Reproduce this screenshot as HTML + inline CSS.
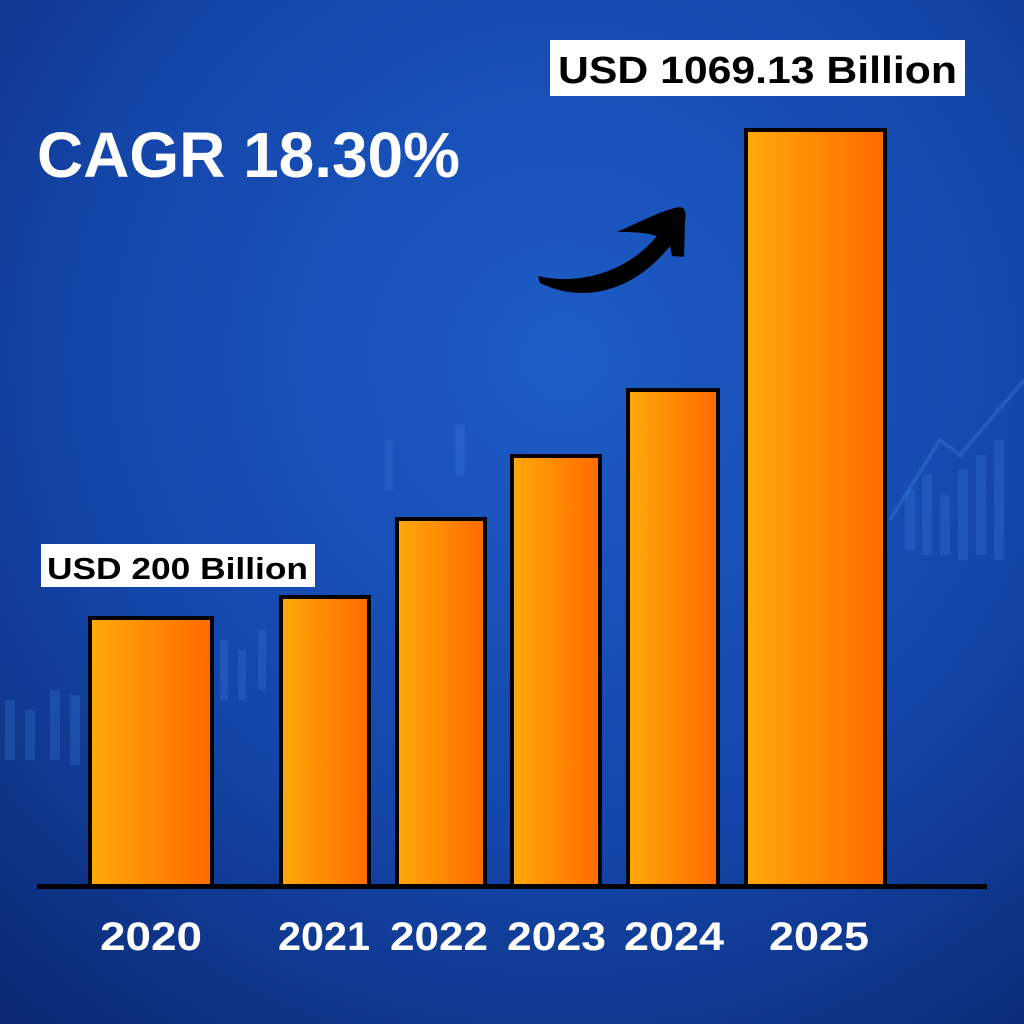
<!DOCTYPE html>
<html><head><meta charset="utf-8"><style>
html,body{margin:0;padding:0;width:1024px;height:1024px;overflow:hidden}
</style></head><body>
<svg width="1024" height="1024" viewBox="0 0 1024 1024" xmlns="http://www.w3.org/2000/svg">
<defs>
<radialGradient id="bg" cx="0.55" cy="0.35" r="0.85">
<stop offset="0" stop-color="#1d5cc6"/>
<stop offset="0.55" stop-color="#1446aa"/>
<stop offset="1" stop-color="#0a2870"/>
</radialGradient>
<linearGradient id="bar" x1="0" y1="0" x2="1" y2="0">
<stop offset="0" stop-color="#ffa90a"/>
<stop offset="1" stop-color="#ff6a00"/>
</linearGradient>
</defs>
<rect width="1024" height="1024" fill="url(#bg)"/>
<g fill="#3a7ad8" opacity="0.3">
<rect x="905" y="490" width="10" height="60"/><rect x="922" y="475" width="10" height="80"/><rect x="940" y="495" width="10" height="60"/><rect x="958" y="470" width="10" height="90"/><rect x="976" y="455" width="10" height="100"/><rect x="994" y="440" width="10" height="120"/>
<rect x="5" y="700" width="10" height="60"/><rect x="25" y="710" width="10" height="50"/><rect x="50" y="690" width="10" height="70"/><rect x="70" y="695" width="10" height="70"/>
<rect x="220" y="640" width="8" height="60"/><rect x="238" y="650" width="8" height="50"/><rect x="258" y="630" width="8" height="60"/>
<rect x="455" y="425" width="10" height="50"/><rect x="385" y="440" width="8" height="50"/>
</g>
<path d="M890 520 L940 440 L960 455 L1024 380" stroke="#3a7ad8" stroke-width="4" fill="none" opacity="0.4"/>
<g stroke="#000" stroke-width="4" fill="url(#bar)">
<rect x="90" y="618" width="122" height="268"/>
<rect x="281" y="597" width="88" height="289"/>
<rect x="397" y="519" width="88" height="367"/>
<rect x="512" y="456" width="88" height="430"/>
<rect x="628" y="390" width="90" height="496"/>
<rect x="746" y="130" width="139" height="756"/>
</g>
<rect x="37" y="884" width="950" height="5" fill="#000"/>
<g font-family="Liberation Sans, sans-serif" font-weight="bold" fill="#fff" font-size="40" lengthAdjust="spacingAndGlyphs">
<text x="100" y="950" textLength="102" lengthAdjust="spacingAndGlyphs">2020</text>
<text x="278" y="950" textLength="92" lengthAdjust="spacingAndGlyphs">2021</text>
<text x="390" y="950" textLength="98" lengthAdjust="spacingAndGlyphs">2022</text>
<text x="507" y="950" textLength="99" lengthAdjust="spacingAndGlyphs">2023</text>
<text x="624" y="950" textLength="100" lengthAdjust="spacingAndGlyphs">2024</text>
<text x="769" y="950" textLength="100" lengthAdjust="spacingAndGlyphs">2025</text>
</g>
<text x="37" y="177" font-family="Liberation Sans, sans-serif" font-weight="bold" fill="#fff" font-size="64" textLength="423" lengthAdjust="spacingAndGlyphs">CAGR 18.30%</text>
<rect x="550" y="40" width="415" height="56" fill="#fff"/>
<text x="558" y="83" font-family="Liberation Sans, sans-serif" font-weight="bold" fill="#000" font-size="38" textLength="399" lengthAdjust="spacingAndGlyphs">USD 1069.13 Billion</text>
<rect x="41" y="544" width="274" height="43" fill="#fff"/>
<text x="47" y="579" font-family="Liberation Sans, sans-serif" font-weight="bold" fill="#000" font-size="31" textLength="261" lengthAdjust="spacingAndGlyphs">USD 200 Billion</text>
<path d="M538 276 C575 285 625 275 657 236 C645 232 630 232 617 232 C640 222 662 210 680 207 C686 208 686 214 685 222 L684 257 L672 256 L670 246 C635 290 585 305 540 283 Z" fill="#000"/>
</svg>
</body></html>
